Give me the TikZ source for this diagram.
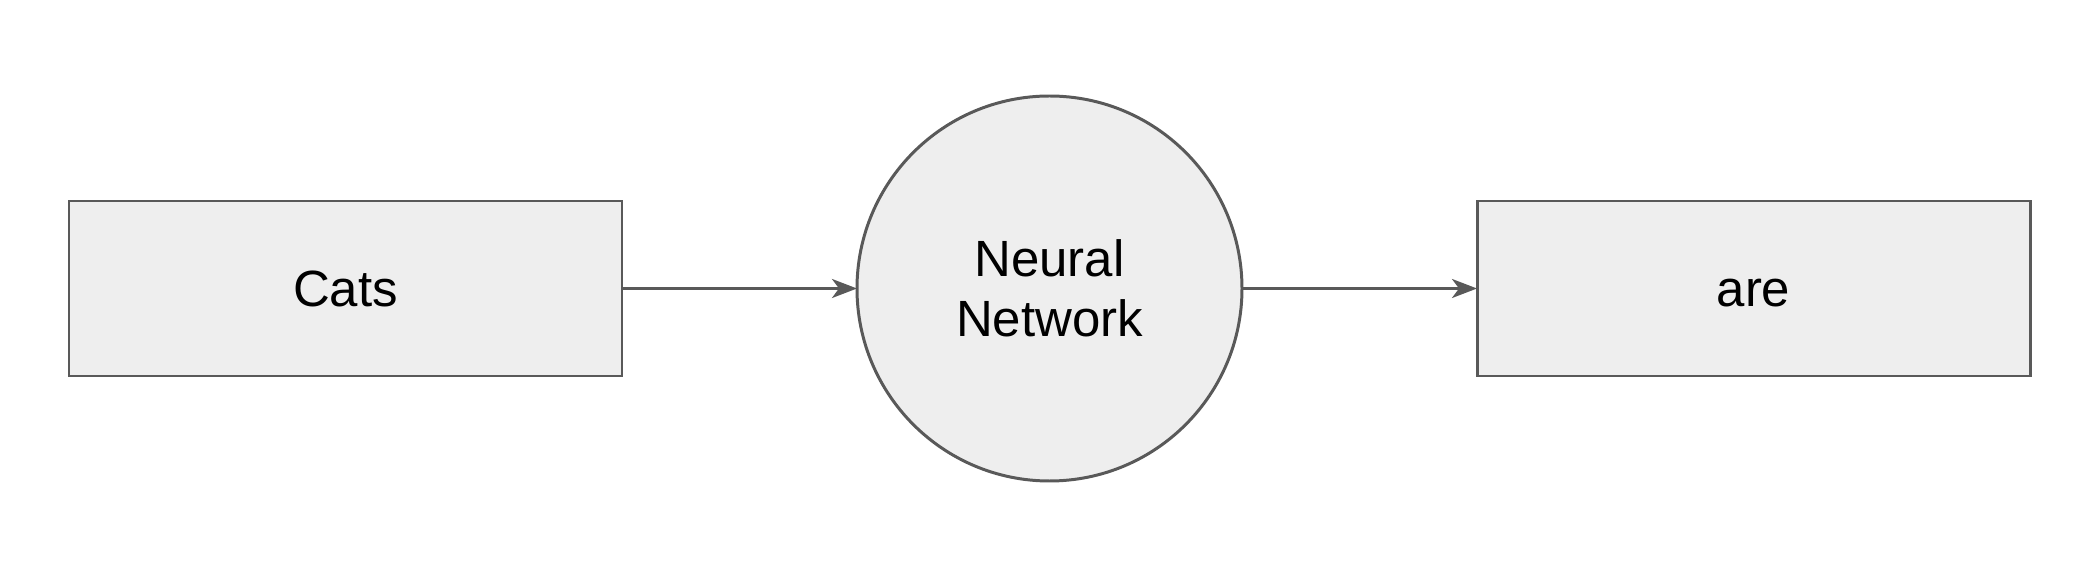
\documentclass[tikz,border=0pt]{standalone}
\usepackage{fontspec}
\setmainfont{Liberation Sans}
\usetikzlibrary{positioning}
\usetikzlibrary{arrows.meta}
\definecolor{boxfill}{HTML}{EEEEEE}
\definecolor{boxline}{HTML}{595959}
\tikzset{
	>={Stealth[length=0.25cm,width=0.19cm,inset=0.07cm]},
	tokenbox/.style={
		rectangle,
		fill=boxfill,
		draw=boxline, line width=0.85pt,
		minimum width=5.53cm,
		minimum height=1.75cm,
		outer sep=0pt,
		text height=10.4pt, text depth=0pt,
		font=\fontsize{14.5}{17}\selectfont},
	netcircle/.style={
		circle,
		fill=boxfill,
		draw=boxline, line width=0.85pt,
		minimum size=3.85cm,
		inner sep=0pt, outer sep=0pt,
		align=center,
		font=\fontsize{14.5}{17}\selectfont},
	line/.style={draw=boxline, line width=0.85pt, ->},
}
\begin{document}
\begin{tikzpicture}
	[node distance=2.35cm]
	\useasboundingbox (0,0) rectangle (21,5.8);

	\node[tokenbox] (cats) at (3.455,2.915) {Cats};
	\node[netcircle, right=of cats] (net) {Neural\\Network};
	\node[tokenbox, right=of net] (are) {are};

	\path[line] (cats) -- (net);
	\path[line] (net) -- (are);
\end{tikzpicture}
\end{document}
